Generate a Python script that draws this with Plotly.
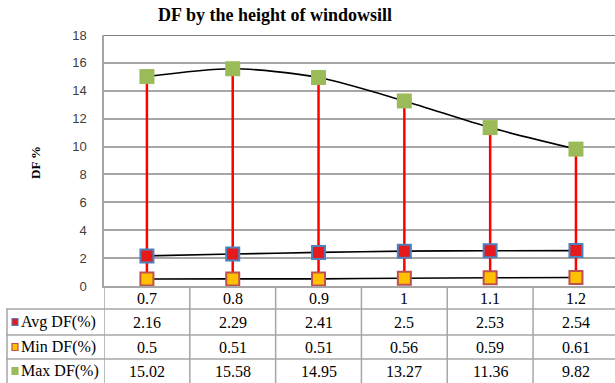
import plotly.graph_objects as go

# Windowsill heights (m) and daylight factor results
heights = ["0.7", "0.8", "0.9", "1", "1.1", "1.2"]
avg_df = [2.16, 2.29, 2.41, 2.5, 2.53, 2.54]
min_df = [0.5, 0.51, 0.51, 0.56, 0.59, 0.61]
max_df = [15.02, 15.58, 14.95, 13.27, 11.36, 9.82]
series_names = ["Avg DF(%)", "Min DF(%)", "Max DF(%)"]
y_ticks = [0, 2, 4, 6, 8, 10, 12, 14, 16, 18]

W, H = 615, 383
L, R, T, B = 104, 0, 35, 97
plot_w, plot_h = W - L - R, H - T - B

GRID = "#A6A6A6"
SERIF = "Liberation Serif, Times New Roman, serif"

xs = list(range(len(heights)))

fig = go.Figure()

# High-low lines from min to max at each height
hl_x, hl_y = [], []
for i, (lo, hi) in enumerate(zip(min_df, max_df)):
    hl_x += [i, i, None]
    hl_y += [lo, hi, None]
fig.add_trace(go.Scatter(x=hl_x, y=hl_y, mode="lines",
                         line=dict(color="#FF0000", width=2.5),
                         hoverinfo="skip", showlegend=False))

# Smoothed black curves through each series
for vals in (avg_df, min_df, max_df):
    fig.add_trace(go.Scatter(x=xs, y=vals, mode="lines",
                             line=dict(color="black", width=1.6, shape="spline", smoothing=0.8),
                             hoverinfo="skip", showlegend=False))

# Markers
styles = [
    dict(color="#E41A1C", size=13, line=dict(color="#4F81BD", width=2)),
    dict(color="#FFC000", size=13, line=dict(color="#C0504D", width=2)),
    dict(color="#9BBB59", size=15, line=dict(width=0)),
]
for name, vals, mk in zip(series_names, (avg_df, min_df, max_df), styles):
    fig.add_trace(go.Scatter(x=xs, y=vals, mode="markers", name=name,
                             marker=dict(symbol="square", **mk), showlegend=False))

shapes = []
annotations = []

def px_to_paper_x(px):
    return (px - L) / plot_w

def px_to_paper_y(py):
    return (H - B - py) / plot_h

# Data table below the plot
row_lines_px = [309, 335, 359]
bottom_px = 383
for py in row_lines_px:
    shapes.append(dict(type="line", xref="paper", yref="paper",
                       x0=px_to_paper_x(6), x1=1.02, y0=px_to_paper_y(py), y1=px_to_paper_y(py),
                       line=dict(color=GRID, width=1.5)))
# vertical column separators
for k in range(len(heights) + 1):
    shapes.append(dict(type="line", xref="x", yref="paper",
                       x0=k - 0.5, x1=k - 0.5, y0=0, y1=px_to_paper_y(bottom_px + 2),
                       line=dict(color=GRID, width=1.5)))
# left border of the legend column
shapes.append(dict(type="line", xref="paper", yref="paper",
                   x0=px_to_paper_x(7), x1=px_to_paper_x(7),
                   y0=px_to_paper_y(row_lines_px[0]), y1=px_to_paper_y(bottom_px + 2),
                   line=dict(color=GRID, width=1.5)))

cell_font = dict(family=SERIF, size=16, color="black")

# header row with category labels
header_center = px_to_paper_y(298)
for i, h in enumerate(heights):
    annotations.append(dict(x=i, y=header_center, xref="x", yref="paper", text=h,
                            showarrow=False, xanchor="center", yanchor="middle", font=cell_font))

row_centers = [322, 347, 371]
key_styles = [("#E41A1C", "#4F81BD"), ("#FFC000", "#C0504D"), ("#9BBB59", "#9BBB59")]
for r, (name, vals) in enumerate(zip(series_names, (avg_df, min_df, max_df))):
    cy = row_centers[r]
    fill, edge = key_styles[r]
    shapes.append(dict(type="rect", xref="paper", yref="paper",
                       x0=px_to_paper_x(12), x1=px_to_paper_x(18),
                       y0=px_to_paper_y(cy + 3.5), y1=px_to_paper_y(cy - 3.5),
                       fillcolor=fill, line=dict(color=edge, width=1.2)))
    annotations.append(dict(x=px_to_paper_x(18.5), y=px_to_paper_y(cy), xref="paper", yref="paper",
                            text=name, showarrow=False, xanchor="left", yanchor="middle",
                            font=cell_font))
    for i, v in enumerate(vals):
        annotations.append(dict(x=i, y=px_to_paper_y(cy), xref="x", yref="paper",
                                text=f"{v:g}", showarrow=False, xanchor="center",
                                yanchor="middle", font=cell_font))

# y-axis title
annotations.append(dict(x=px_to_paper_x(35), y=px_to_paper_y(163), xref="paper", yref="paper",
                        text="<b>DF %</b>", textangle=-90, showarrow=False,
                        xanchor="center", yanchor="middle",
                        font=dict(family=SERIF, size=13, color="black")))

fig.update_layout(
    width=W, height=H,
    margin=dict(l=L, r=R, t=T, b=B),
    paper_bgcolor="white", plot_bgcolor="white",
    title=dict(text="<b>DF by the height of windowsill</b>", xref="container", yref="container",
               x=275 / W, y=1 - 15 / H, xanchor="center", yanchor="middle",
               font=dict(family=SERIF, size=18, color="black")),
    xaxis=dict(range=[-0.5, 5.455], showticklabels=False, showgrid=False, zeroline=False,
               showline=True, linecolor=GRID, linewidth=1.5, mirror=False, fixedrange=True),
    yaxis=dict(range=[0, 18], tickvals=y_ticks, showgrid=True, gridcolor=GRID, gridwidth=1.5,
               zeroline=False, showline=True, linecolor=GRID, linewidth=1.5,
               ticks="", ticklabelstandoff=13,
               tickfont=dict(family="Liberation Sans, Arial, sans-serif", size=13, color="#404040")),
    shapes=shapes,
    annotations=annotations,
)
# darker top border of the plot area
fig.add_shape(type="line", xref="paper", yref="y", x0=0, x1=1, y0=18, y1=18,
              line=dict(color="#808080", width=2))

fig.write_html("out.html")
